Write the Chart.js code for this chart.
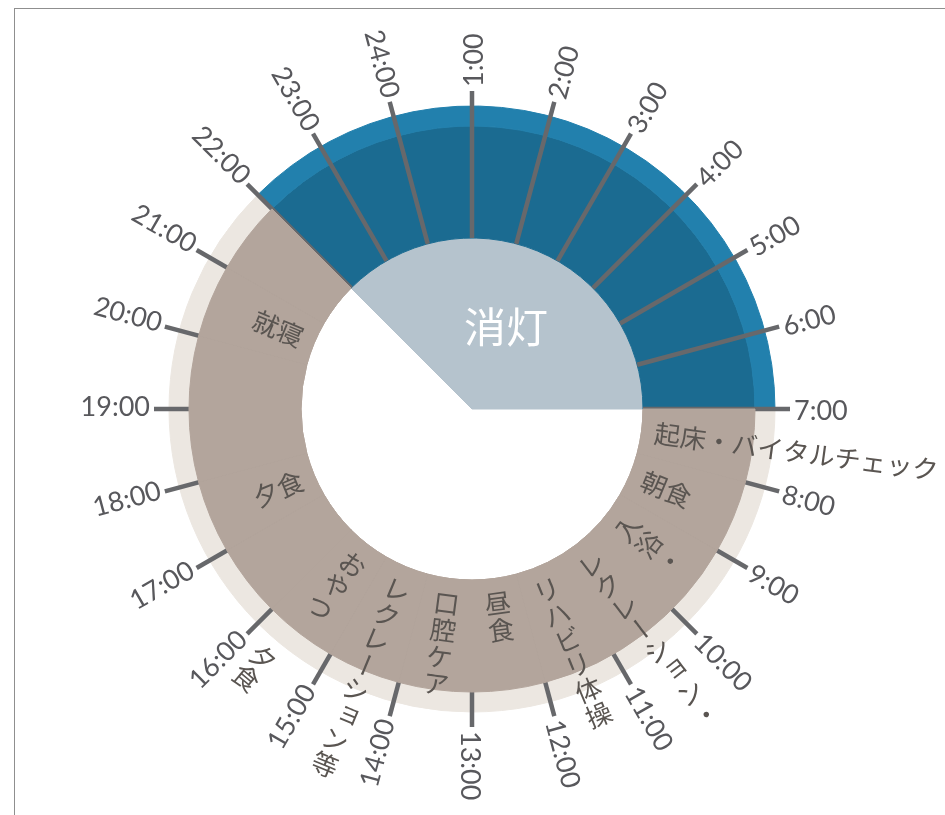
<!DOCTYPE html>
<html>
<head>
<meta charset="utf-8">
<script src="https://cdn.jsdelivr.net/npm/chart.js@4.4.1/dist/chart.umd.min.js"></script>
<style>
html, body { margin: 0; padding: 0; background: #fff; overflow: hidden; }
#frame { position: absolute; left: 14px; top: 8px; width: 1000px; height: 1000px; border: 1px solid #8f8f8f; }
#wrap { position: absolute; left: 0; top: 0; width: 945px; height: 815px; }
</style>
</head>
<body>
<div id="frame"></div>
<div id="wrap"><canvas id="clockChart"></canvas></div>
<script>
// 時刻ラベル（7:00 から時計回り）
var hourLabels = ['7:00', '8:00', '9:00', '10:00', '11:00', '12:00', '13:00', '14:00', '15:00', '16:00', '17:00', '18:00',
    '19:00', '20:00', '21:00', '22:00', '23:00', '24:00', '1:00', '2:00', '3:00', '4:00', '5:00', '6:00'];

// 日中 / 消灯（時間）
var periodNames = ['日中', '消灯'];
var periodHours = [15, 9];

// 日課（7:00 から順に、時間）
var activityNames = ['起床・バイタルチェック', '朝食', '入浴・\nレクレーション・\nリハビリ体操', '昼食', '口腔ケア',
    'レクレーション等', 'おやつ', '', '夕食', '', '就寝', '', '消灯'];
var activityHours = [1, 1, 3, 1, 1, 1, 1, 1, 1, 2, 1, 1, 9];

// 枠外の注記（時刻）
var noteNames = ['夕食'];
var noteHours = [15.67];

var TAU = Math.PI * 2;

function norm(a) {
    a = a % TAU;
    if (a < 0) a += TAU;
    return a;
}

// 縦書きで一列ずつ置く
function drawColumn(ctx, text, ang, r0, adv) {
    var chars = Array.from(text);
    chars.forEach(function (ch, k) {
        var r = r0 + k * adv;
        ctx.save();
        ctx.translate(Math.cos(ang) * r, Math.sin(ang) * r);
        ctx.rotate(ang - Math.PI / 2);
        ctx.textAlign = 'center';
        ctx.textBaseline = 'middle';
        if (ch === 'ー') ctx.rotate(Math.PI / 2);
        var dx = 0, dy = 0;
        if ('ァィゥェォッャュョヮぁぃぅぇぉっゃゅょ'.indexOf(ch) >= 0) { dx = 4; dy = -4; }
        ctx.fillText(ch, dx, dy);
        ctx.restore();
    });
}

var clockPlugin = {
    id: 'clockLabels',
    afterDatasetsDraw: function (chart) {
        var ctx = chart.ctx;
        var outer = chart.getDatasetMeta(0).data;
        var middle = chart.getDatasetMeta(1).data;
        var inner = chart.getDatasetMeta(2).data;
        var cx = middle[0].x, cy = middle[0].y;
        var rOuter = outer[0].outerRadius;
        var rIn = middle[0].innerRadius;
        var a0 = outer[0].startAngle;
        var step = (outer[0].endAngle - outer[0].startAngle) / periodHours[0];

        // 目盛り（日中の帯は後で上から塗り直す）
        ctx.save();
        ctx.translate(cx, cy);
        ctx.strokeStyle = '#67686b';
        ctx.lineWidth = 4.5;
        for (var i = 0; i < hourLabels.length; i++) {
            var a = a0 + i * step;
            var r1 = rOuter + 15;
            ctx.beginPath();
            ctx.moveTo(Math.cos(a) * rIn, Math.sin(a) * rIn);
            ctx.lineTo(Math.cos(a) * r1, Math.sin(a) * r1);
            ctx.stroke();
        }
        ctx.restore();

        middle.forEach(function (arc, k) {
            if (k < middle.length - 1) arc.draw(ctx);
        });

        ctx.save();
        ctx.translate(cx, cy);

        // 時刻ラベル
        ctx.fillStyle = '#58585c';
        ctx.font = '27px Lato';
        ctx.textBaseline = 'middle';
        for (var j = 0; j < hourLabels.length; j++) {
            var b = a0 + j * step;
            var deg = norm(b) * 180 / Math.PI;
            ctx.save();
            if (deg > 91 && deg < 269) {
                ctx.rotate(b + Math.PI);
                ctx.textAlign = 'right';
                ctx.fillText(hourLabels[j], -(rOuter + 19), -2);
            } else {
                ctx.rotate(b);
                ctx.textAlign = 'left';
                ctx.fillText(hourLabels[j], rOuter + 19, 2);
            }
            ctx.restore();
        }

        // 日課ラベル
        ctx.fillStyle = '#5a5551';
        ctx.font = '26px "Noto Sans CJK JP"';
        middle.forEach(function (arc, k) {
            var name = activityNames[k];
            if (!name || k === middle.length - 1) return;
            var s = arc.startAngle, e = arc.endAngle, mid = (s + e) / 2;
            var d = norm(mid) * 180 / Math.PI;
            if (d > 30 && d < 150) {
                var lines = name.split('\n');
                lines.forEach(function (line, n) {
                    var ang = s + (n + 0.5) * (e - s) / lines.length;
                    drawColumn(ctx, line, ang, rIn + 25, 27);
                });
            } else {
                var text = name.replace(/\n/g, '');
                ctx.save();
                ctx.textBaseline = 'middle';
                if (d > 90 && d < 270) {
                    ctx.rotate(mid + Math.PI);
                    ctx.textAlign = 'right';
                    ctx.fillText(text, -(rIn + 13), 0);
                } else {
                    ctx.rotate(mid);
                    ctx.textAlign = 'left';
                    ctx.fillText(text, rIn + 13, 0);
                }
                ctx.restore();
            }
        });

        // 注記
        noteNames.forEach(function (name, k) {
            var ang = a0 + (noteHours[k] - 7) * step;
            drawColumn(ctx, name, ang, rOuter + 22, 26);
        });

        // 中央の「消灯」
        var nightArc = inner[1];
        var m = (nightArc.startAngle + nightArc.endAngle) / 2;
        var rc = nightArc.outerRadius * 0.52;
        ctx.fillStyle = '#ffffff';
        ctx.font = '42px "Noto Sans CJK JP"';
        ctx.textAlign = 'center';
        ctx.textBaseline = 'middle';
        ctx.fillText(activityNames[activityNames.length - 1], Math.cos(m) * rc, Math.sin(m) * rc);

        ctx.restore();
    }
};

var brown = '#b3a59c';
var middleColors = activityHours.map(function (h, i) {
    return i === activityHours.length - 1 ? '#1b6b91' : brown;
});

var ctxClock = document.getElementById('clockChart').getContext('2d');
var clockChart = new Chart(ctxClock, {
    type: 'doughnut',
    data: {
        labels: activityNames,
        datasets: [{
            label: '外周',
            data: periodHours,
            backgroundColor: ['#ece7e1', '#2280ad'],
            borderColor: ['#ece7e1', '#2280ad'],
            borderWidth: 1,
            hoverOffset: 0,
            weight: 20
        }, {
            label: '日課',
            data: activityHours,
            backgroundColor: middleColors,
            borderColor: middleColors,
            borderWidth: 1,
            hoverOffset: 0,
            weight: 112
        }, {
            label: '消灯',
            data: periodHours,
            backgroundColor: ['rgba(255,255,255,0)', '#b5c3cd'],
            borderColor: ['rgba(255,255,255,0)', '#b5c3cd'],
            borderWidth: 1,
            hoverOffset: 0,
            weight: 171
        }]
    },
    options: {
        responsive: true,
        maintainAspectRatio: false,
        animation: false,
        events: [],
        rotation: 90,
        circumference: 360,
        cutout: 0,
        layout: { padding: { left: 168.5, right: 169.5, top: 105.5, bottom: 102.5 } },
        plugins: {
            legend: { display: false },
            tooltip: { enabled: false }
        }
    },
    plugins: [clockPlugin]
});
</script>
</body>
</html>
